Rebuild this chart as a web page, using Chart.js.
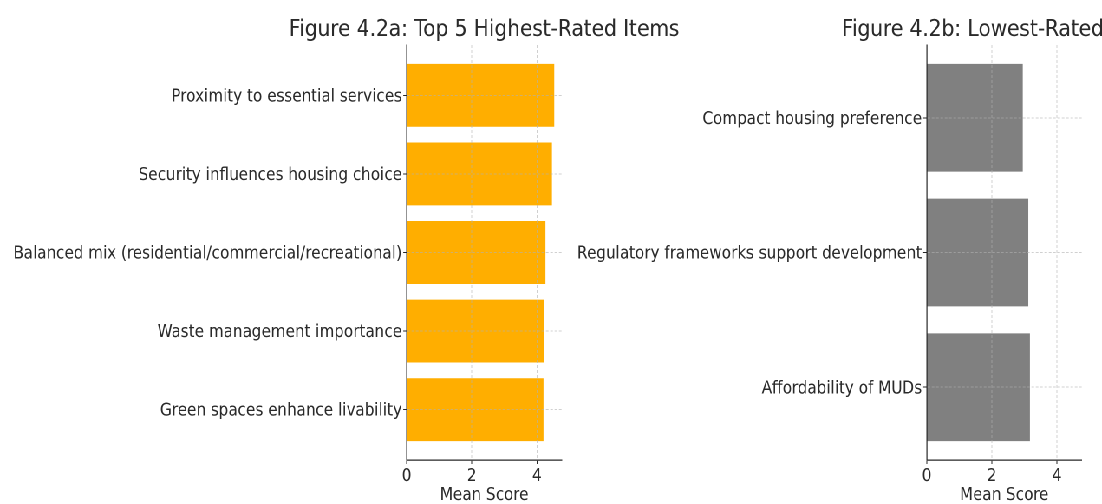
<!DOCTYPE html>
<html>
<head>
<meta charset="utf-8">
<script src="https://cdn.jsdelivr.net/npm/chart.js@4.4.1/dist/chart.umd.min.js"></script>
<style>
  html, body { margin: 0; padding: 0; background: #fff; overflow: hidden; }
  /* the reference is horizontally squeezed, so draw wide and scale down */
  #stage { position: relative; width: 1271px; height: 504px; transform: scaleX(0.867); transform-origin: 0 0; }
  #stage canvas { position: absolute; top: 0; }
</style>
</head>
<body>
<div id="stage">
  <canvas id="top5" width="800" height="504" style="left:0"></canvas>
  <canvas id="low3" width="611" height="504" style="left:660px"></canvas>
</div>
<script>
const TOP_ITEMS = [
  'Proximity to essential services',
  'Security influences housing choice',
  'Balanced mix (residential/commercial/recreational)',
  'Waste management importance',
  'Green spaces enhance livability',
];
const TOP_SCORES = [4.53, 4.46, 4.26, 4.21, 4.20];

const LOW_ITEMS = [
  'Compact housing preference',
  'Regulatory frameworks support development',
  'Affordability of MUDs',
];
const LOW_SCORES = [2.95, 3.12, 3.17];

const X_TICKS = [0, 2, 4];
const X_MAX = 4.76;

const TEXT = '#2a2a2a';
const AXIS = '#262626';
const GRID = 'rgba(176,176,176,0.6)';

Chart.defaults.font.family = '"DejaVu Sans", sans-serif';
Chart.defaults.color = TEXT;

// title centred over the plot area, like matplotlib's ax.set_title
const panelTitle = {
  id: 'panelTitle',
  afterDraw(chart, args, opts) {
    const { ctx, chartArea } = chart;
    ctx.save();
    ctx.font = `${opts.size}px "DejaVu Sans"`;
    ctx.fillStyle = TEXT;
    ctx.textAlign = 'center';
    ctx.textBaseline = 'alphabetic';
    ctx.fillText(opts.text, (chartArea.left + chartArea.right) / 2, opts.y);
    ctx.restore();
  },
};

function makePanel(id, items, scores, color, title, yWidth, padRight) {
  const n = items.length;
  const span = n - 1 + 0.8;
  const margin = 0.05 * span;

  return new Chart(document.getElementById(id), {
    type: 'bar',
    data: {
      datasets: [{
        data: scores.map((v, i) => ({ x: v, y: i })),
        backgroundColor: color,
        borderWidth: 0,
        categoryPercentage: 0.8,
        barPercentage: 1,
      }],
    },
    plugins: [panelTitle],
    options: {
      indexAxis: 'y',
      responsive: false,
      animation: false,
      devicePixelRatio: 2,
      layout: { padding: { top: 45, right: padRight, bottom: 0, left: 0 } },
      plugins: {
        legend: { display: false },
        tooltip: { enabled: false },
        panelTitle: { text: title, size: 23.2, y: 36 },
      },
      scales: {
        x: {
          type: 'linear',
          min: 0,
          max: X_MAX,
          afterBuildTicks: (s) => { s.ticks = X_TICKS.map((v) => ({ value: v })); },
          afterFit: (s) => { s.height = 44; },
          ticks: { font: { size: 17.5 }, padding: 2, color: TEXT, maxRotation: 0 },
          grid: {
            z: 1,
            color: (c) => (c.tick && c.tick.value === 0 ? 'rgba(0,0,0,0)' : GRID),
            lineWidth: 1,
            tickColor: AXIS,
            tickLength: 4,
            tickWidth: 1,
          },
          border: { z: 2, color: AXIS, width: 1.2, dash: [3, 2] },
          title: {
            display: true,
            text: 'Mean Score',
            font: { size: 17.5 },
            color: TEXT,
            padding: { top: 0, bottom: -2 },
          },
        },
        y: {
          type: 'linear',
          reverse: true,
          offset: false,
          min: -0.4 - margin,
          max: n - 1 + 0.4 + margin,
          afterBuildTicks: (s) => { s.ticks = items.map((_, i) => ({ value: i })); },
          afterFit: (s) => { s.width = yWidth; },
          ticks: {
            font: { size: 17.5 },
            padding: 1.5,
            labelOffset: 1.5,
            color: TEXT,
            autoSkip: false,
            callback: (v) => items[v] ?? '',
          },
          grid: {
            z: 1,
            offset: false,
            color: GRID,
            lineWidth: 1,
            tickColor: AXIS,
            tickLength: 4,
            tickWidth: 1,
          },
          border: { z: 2, color: AXIS, width: 1.2, dash: [3, 2] },
        },
      },
    },
  });
}

makePanel('top5', TOP_ITEMS, TOP_SCORES, '#FFAE00', 'Figure 4.2a: Top 5 Highest-Rated Items', 469.1, 152.1);
makePanel('low3', LOW_ITEMS, LOW_SCORES, '#808080', 'Figure 4.2b: Lowest-Rated Items', 408.9, 23.4);
</script>
</body>
</html>
